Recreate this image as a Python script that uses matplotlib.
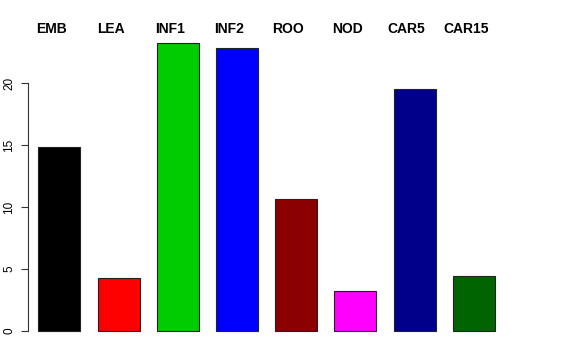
import matplotlib
matplotlib.use("Agg")
import matplotlib.pyplot as plt
import numpy as np

categories = ["EMB", "LEA", "INF1", "INF2", "ROO", "NOD", "CAR5", "CAR15"]
values = [14.85, 4.28, 23.23, 22.88, 10.67, 3.21, 19.56, 4.45]
colors = ["#000000", "#FF0000", "#00CD00", "#0000FF", "#8B0000", "#FF00FF", "#00008B", "#006400"]
yticks = [0, 5, 10, 15, 20]

plt.rcParams['font.family'] = ['Liberation Sans', 'DejaVu Sans']

W, H = 576, 360
fig = plt.figure(figsize=(W / 100, H / 100), dpi=100)

# axes placement in pixel space
left_px, right_px = 28, 540
top_px, bot_px = 30, 340
ax = fig.add_axes([left_px / W, 1 - bot_px / H, (right_px - left_px) / W, (bot_px - top_px) / H])

step = 59.2          # px per bar slot
c0 = 59.3            # px centre of first bar
ppu = 12.385         # px per y unit
zero_px = 331

ax.set_xlim((left_px - c0) / step, (right_px - c0) / step)
ax.set_ylim(-(bot_px - zero_px) / ppu, (zero_px - top_px) / ppu)

x = np.arange(len(categories))
ax.bar(x, values, width=42 / step, color=colors, edgecolor="#222222", linewidth=0.8)

for s in ["top", "right", "bottom"]:
    ax.spines[s].set_visible(False)
ax.spines["left"].set_bounds(0, 20)
ax.spines["left"].set_linewidth(0.8)
ax.spines["left"].set_color("#333333")
ax.set_xticks([])
ax.set_yticks(yticks)
ax.set_yticklabels([str(v) for v in yticks], rotation=90, va="center", fontsize=8.5)
ax.tick_params(axis="y", length=5, width=0.8, pad=4, color="#333333")

for i, c in enumerate(categories):
    ax.text(i - 7.8 / step, 1 - (33 - top_px) / (bot_px - top_px), c,
            transform=ax.get_xaxis_transform(), ha="center", va="baseline",
            fontsize=10, fontweight="bold")

fig.savefig("out.png", dpi=100)
